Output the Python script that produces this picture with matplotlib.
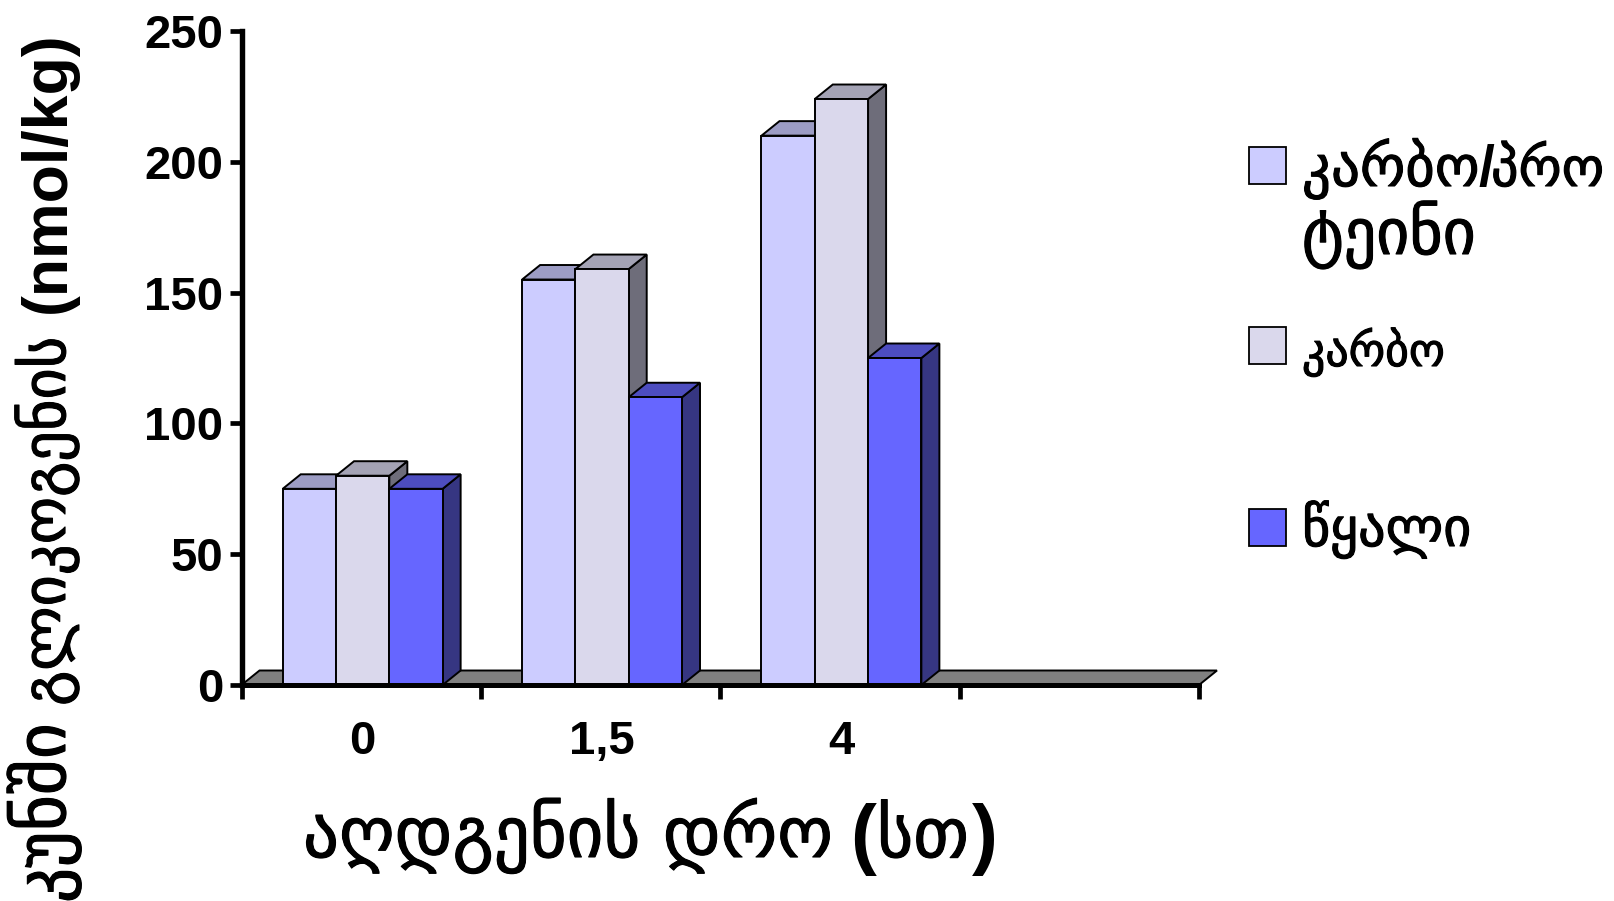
import matplotlib
matplotlib.use("Agg")
import matplotlib.pyplot as plt
import matplotlib.patheffects as pe
from matplotlib.patches import Polygon, Rectangle

categories = ["0", "1,5", "4"]
slots = 4
series_names = ["კარბო/პროტეინი", "კარბო", "წყალი"]
carbo_protein = [75, 155, 210]
carbo = [80, 159, 224]
water = [75, 110, 125]
series_values = [carbo_protein, carbo, water]
front_colors = ["#CCCCFF", "#DAD8EC", "#6666FF"]
top_colors = ["#9C9CC4", "#A4A3B5", "#4D4DBF"]
side_colors = ["#6E6E98", "#6E6D7A", "#363682"]
y_ticks = [0, 50, 100, 150, 200, 250]

W, H = 1614, 901
LAT = "Liberation Sans"
GEO = "DejaVu Sans"

fig = plt.figure(figsize=(W / 100, H / 100), dpi=100, facecolor="white")
ax = fig.add_axes([241.5 / W, 1 - 685 / H, (1199 - 241.5) / W, (685 - 31) / H])
ax.set_xlim(0, slots)
ax.set_ylim(0, 250)
ax.patch.set_visible(False)
for s in ("top", "right"):
    ax.spines[s].set_visible(False)
ax.spines["left"].set_linewidth(3.9)
ax.spines["bottom"].set_linewidth(3.6)
ax.spines["left"].set_zorder(20)
ax.spines["bottom"].set_zorder(20)

slot_px = (1199 - 241.5) / slots
centre = 0.5 + 1.5 / slot_px

ax.set_yticks(y_ticks)
ax.set_xticks(range(slots + 1))
ax.set_xticklabels([])
ax.tick_params(axis="y", length=9, width=3.4, pad=4)
ax.tick_params(axis="x", which="major", length=10, width=3.4)
ax.set_xticks([i + centre for i in range(len(categories))], minor=True)
ax.set_xticklabels(categories, minor=True)
ax.tick_params(axis="x", which="minor", length=0, pad=25)
for lab in ax.get_yticklabels() + ax.get_xticklabels(minor=True):
    lab.set_family(LAT)
    lab.set_weight("bold")
    lab.set_fontsize(34)

bar_w = 53.3 / slot_px
dx = 18 / slot_px
dy = 14.5 / ((685 - 31) / 250)
edge = dict(edgecolor="black", linewidth=1.4, joinstyle="miter")

# floor of the 3D chart
ax.add_patch(Polygon([(0, 0), (slots, 0), (slots + dx, dy), (dx, dy)],
                     closed=True, facecolor="#808080", clip_on=False, zorder=1, **edge))

z = 2
for k, vals in enumerate(series_values):
    for i, v in enumerate(vals):
        x0 = i + centre + (k - 1.5) * bar_w
        x1 = x0 + bar_w
        ax.add_patch(Polygon([(x1, 0), (x1 + dx, dy), (x1 + dx, v + dy), (x1, v)],
                             closed=True, facecolor=side_colors[k], zorder=z, **edge))
        ax.add_patch(Polygon([(x0, v), (x1, v), (x1 + dx, v + dy), (x0 + dx, v + dy)],
                             closed=True, facecolor=top_colors[k], zorder=z, **edge))
    ax.bar([i + centre + (k - 1) * bar_w for i in range(len(vals))], vals, width=bar_w,
           color=front_colors[k], zorder=z + 1, **edge)
    z += 2

heavy = [pe.withStroke(linewidth=0.8, foreground="black")]


def put(x, y, s, family, size, weight="normal", ha="left", rot=0):
    t = fig.text(x / W, 1 - y / H, s, family=family, fontsize=size, weight=weight,
                 ha=ha, va="baseline", rotation=rot, rotation_mode="anchor", color="black")
    if family == GEO:
        t.set_path_effects(heavy)
    return t


# legend
legend_tops = [147, 327, 509]
for col, top in zip(front_colors, legend_tops):
    fig.add_artist(Rectangle((1249 / W, 1 - (top + 36.5) / H), 36.5 / W, 36.5 / H,
                             transform=fig.transFigure, facecolor=col,
                             edgecolor="black", linewidth=1.3))
first = series_names[0]
put(1302, 186, first[:5], GEO, 41)
put(1478, 186, "/", LAT, 41, "bold")
put(1491, 186, first[6:9], GEO, 39)
put(1302, 254, first[9:], GEO, 46)
put(1302, 366, series_names[1], GEO, 33)
put(1302, 546, series_names[2], GEO, 39)

# x axis title (Georgian regular, brackets bold)
put(303, 857, "აღდგენის დრო", GEO, 51)
put(850, 860, "(", LAT, 56, "bold")
put(877, 857, "სთ", GEO, 50)
put(972, 860, ")", LAT, 56, "bold")

# y axis title
put(65, 337, "გლიკოგენის", GEO, 43.5, ha="right", rot=90)
put(65, 723, "კუნში", GEO, 50, ha="right", rot=90)
put(65, 313, "(nmol/kg)", LAT, 45, "bold", rot=90)

fig.savefig("out.png", dpi=100, facecolor="white")
